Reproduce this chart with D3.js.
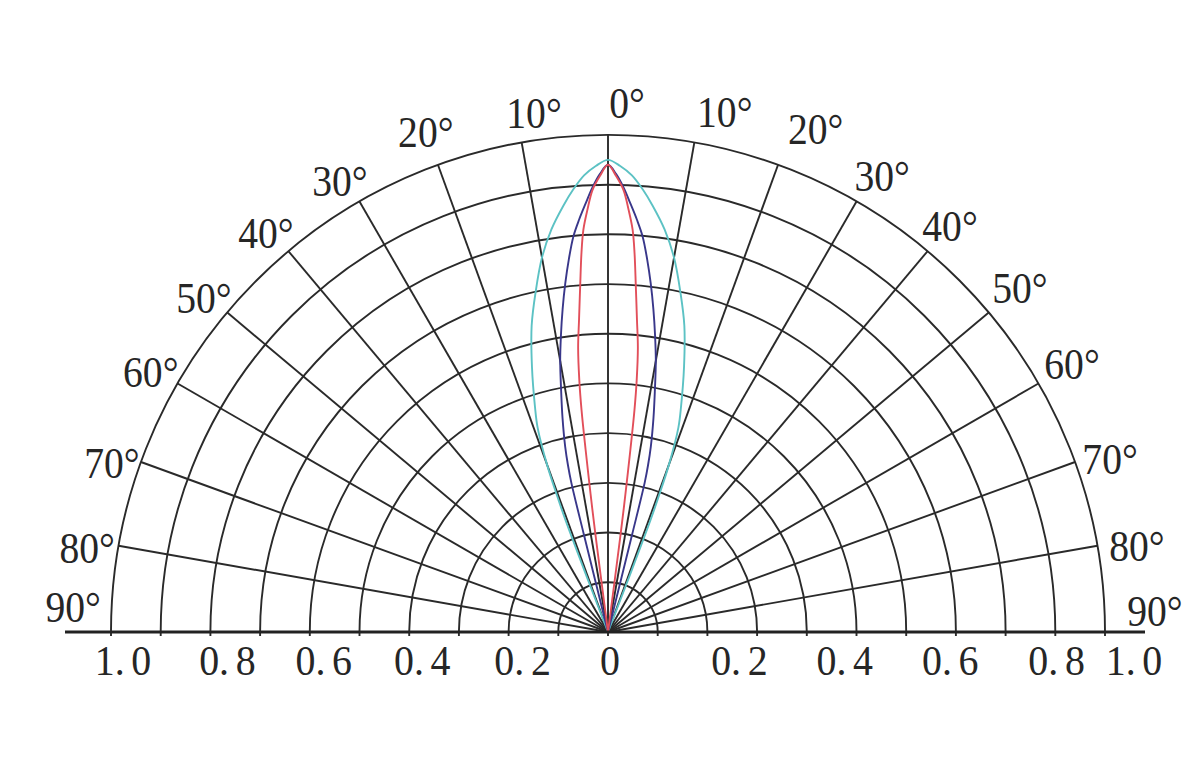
<!DOCTYPE html>
<html>
<head>
<meta charset="utf-8">
<script src="https://cdn.jsdelivr.net/npm/d3@7"></script>
<style>
  html, body { margin: 0; padding: 0; background: #fff; }
  svg { display: block; }
  text { font-family: "Liberation Serif", "Times New Roman", serif; fill: #262626; }
</style>
</head>
<body>
<svg id="chart" width="1200" height="765"></svg>
<script>
// ---------------- data ----------------
const angleTicks = [-90, -80, -70, -60, -50, -40, -30, -20, -10, 0, 10, 20, 30, 40, 50, 60, 70, 80, 90];
const angleLabels = ["90°", "80°", "70°", "60°", "50°", "40°", "30°", "20°", "10°", "0°", "10°", "20°", "30°", "40°", "50°", "60°", "70°", "80°", "90°"];
const ringValues = [0.1, 0.2, 0.3, 0.4, 0.5, 0.6, 0.7, 0.8, 0.9, 1.0];
const axisTickValues = [-1.0, -0.8, -0.6, -0.4, -0.2, 0, 0.2, 0.4, 0.6, 0.8, 1.0];
const axisTickLabels = ["1.0", "0.8", "0.6", "0.4", "0.2", "0", "0.2", "0.4", "0.6", "0.8", "1.0"];
const minorTickValues = [-0.9, -0.7, -0.5, -0.3, -0.1, 0.1, 0.3, 0.5, 0.7, 0.9];

// series: angle (deg) and relative intensity
const cyanAngles = [-21.1, -21.0, -20.8, -20.5, -20, -19, -18, -16, -14, -12, -10, -8, -6, -4.5, -3, -1.5, 0, 1.5, 3, 4.5, 6, 8, 10, 12, 14, 16, 18, 19, 20, 20.5, 20.8, 21.0, 21.1];
const cyanValues = [0, 0.12, 0.24, 0.29, 0.36, 0.435, 0.475, 0.555, 0.635, 0.70, 0.765, 0.818, 0.862, 0.893, 0.92, 0.938, 0.95, 0.938, 0.92, 0.893, 0.862, 0.818, 0.765, 0.70, 0.635, 0.555, 0.475, 0.435, 0.36, 0.29, 0.24, 0.12, 0];

const purpleAngles = [-14.0, -13.9, -13.8, -13.5, -13, -12, -11, -10, -9, -8, -7, -6, -5, -4, -3, -2, -1, 0, 1, 2, 3, 4, 5, 6, 7, 8, 9, 10, 11, 12, 13, 13.5, 13.8, 13.9, 14.0];
const purpleValues = [0, 0.2, 0.31, 0.345, 0.383, 0.44, 0.494, 0.554, 0.605, 0.656, 0.706, 0.754, 0.799, 0.832, 0.863, 0.895, 0.922, 0.94, 0.922, 0.895, 0.863, 0.832, 0.799, 0.754, 0.706, 0.656, 0.605, 0.554, 0.494, 0.44, 0.383, 0.345, 0.31, 0.2, 0];

const redAngles = [-7.5, -7.35, -7.2, -7.0, -6.8, -6.5, -6.0, -5.3, -4.6, -4.0, -3.5, -2.8, -2.0, -1.0, 0, 1.0, 2.0, 2.8, 3.5, 4.0, 4.6, 5.3, 6.0, 6.5, 6.8, 7.0, 7.2, 7.35, 7.5];
const redValues = [0, 0.2, 0.28, 0.37, 0.45, 0.51, 0.575, 0.631, 0.698, 0.765, 0.811, 0.85, 0.89, 0.918, 0.94, 0.918, 0.89, 0.85, 0.811, 0.765, 0.698, 0.631, 0.575, 0.51, 0.45, 0.37, 0.28, 0.2, 0];

// ---------------- layout ----------------
const cx = 608, cy = 632, R = 497;
const gridColor = "#2a2a2a";
const seriesStyle = [
  { angles: cyanAngles, values: cyanValues, color: "#5cc2c4" },
  { angles: purpleAngles, values: purpleValues, color: "#39378a" },
  { angles: redAngles, values: redValues, color: "#e24f5a" }
];
// label nudges (px) for angle labels, in the order of angleTicks
const angleLabelNudge = [
  [-8, -25], [-2, 7.5], [-1, 11], [-1, 3.4], [-0.5, 4.6], [-3.4, 4.5], [-4.6, 5.2], [-2, -5], [17.5, 0],
  [19, 5.3],
  [24, 6], [25, -1], [7, 6.7], [-1.4, 3.3], [2.7, -0.6], [1.3, -0.9], [0, 9.7], [2.8, 6.8], [12.7, -21]
];
const axisLabelDx = [12, 17, 14, 13, 14, 2, 32, 38, 44, 51, 29];

const svg = d3.select("#chart");
const rScale = d3.scaleLinear().domain([0, 1]).range([0, R]);
const xScale = d3.scaleLinear().domain([-1, 1]).range([cx - R, cx + R]);
const toRad = d => d * Math.PI / 180;

const g = svg.append("g").attr("transform", `translate(${cx},${cy})`);

// rings (semicircles)
g.selectAll("path.ring").data(ringValues).join("path")
  .attr("class", "ring")
  .attr("d", v => {
    const p = d3.path();
    p.arc(0, 0, rScale(v), Math.PI, 2 * Math.PI);
    return p.toString();
  })
  .attr("fill", "none")
  .attr("stroke", gridColor)
  .attr("stroke-width", 1.9);

// radial spokes
g.selectAll("line.spoke").data(angleTicks.filter(a => Math.abs(a) < 90)).join("line")
  .attr("class", "spoke")
  .attr("x1", 0).attr("y1", 0)
  .attr("x2", a => rScale(1) * Math.sin(toRad(a)))
  .attr("y2", a => -rScale(1) * Math.cos(toRad(a)))
  .attr("stroke", gridColor)
  .attr("stroke-width", 1.9);

// tick marks below baseline
svg.selectAll("line.tick").data(axisTickValues.concat(minorTickValues)).join("line")
  .attr("class", "tick")
  .attr("x1", v => xScale(v)).attr("x2", v => xScale(v))
  .attr("y1", cy).attr("y2", cy + 4)
  .attr("stroke", gridColor).attr("stroke-width", 1.9);

// baseline
svg.append("line")
  .attr("x1", 65).attr("x2", 1145)
  .attr("y1", cy).attr("y2", cy)
  .attr("stroke", "#222").attr("stroke-width", 3.2);

// series curves
const radial = d3.lineRadial()
  .angle(d => toRad(d[0]))
  .radius(d => rScale(d[1]))
  .curve(d3.curveCatmullRom.alpha(0.5));

g.selectAll("path.series").data(seriesStyle).join("path")
  .attr("class", "series")
  .attr("d", s => radial(s.angles.map((a, i) => [a, s.values[i]])))
  .attr("fill", "none")
  .attr("stroke", s => s.color)
  .attr("stroke-width", 1.9);

// angle labels
svg.selectAll("text.alabel").data(angleTicks).join("text")
  .attr("class", "alabel")
  .attr("transform", (a, i) => {
    const rr = a < 0 ? 1.06 : 1.075;
    const x = cx + rScale(rr) * Math.sin(toRad(a)) + angleLabelNudge[i][0];
    const y = cy - rScale(rr) * Math.cos(toRad(a)) + angleLabelNudge[i][1];
    return `translate(${x},${y}) scale(0.9,1)`;
  })
  .attr("text-anchor", "middle")
  .attr("dy", "0.34em")
  .attr("font-size", 44)
  .text((a, i) => angleLabels[i]);

// axis labels
const axisText = svg.selectAll("text.xlabel").data(axisTickValues).join("text")
  .attr("class", "xlabel")
  .attr("transform", (v, i) => `translate(${xScale(v) + axisLabelDx[i]},675) scale(0.95,1)`)
  .attr("text-anchor", "middle")
  .attr("font-size", 42);
axisText.each(function(v, i) {
  const t = axisTickLabels[i];
  const sel = d3.select(this);
  const dot = t.indexOf(".");
  if (dot >= 0) {
    sel.append("tspan").text(t.slice(0, dot + 1));
    sel.append("tspan").attr("dx", 7).text(t.slice(dot + 1));
  } else {
    sel.text(t);
  }
});
</script>
</body>
</html>
